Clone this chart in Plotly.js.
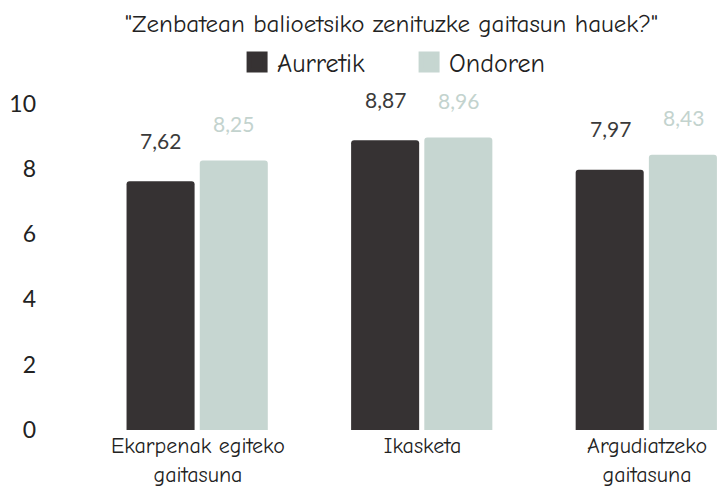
<!DOCTYPE html>
<html>
<head>
<meta charset="utf-8">
<script src="https://cdn.plot.ly/plotly-3.0.1.min.js"></script>
<style>html,body{margin:0;padding:0;background:#fff;}#chart{width:725px;height:492px;}</style>
</head>
<body>
<div id="chart"></div>
<script>
const categories = ["Ekarpenak egiteko<br>gaitasuna", "Ikasketa", "Argudiatzeko<br>gaitasuna"];
const seriesNames = ["Aurretik", "Ondoren"];
const aurretik = [7.62, 8.87, 7.97];
const ondoren = [8.25, 8.96, 8.43];
const yTicks = [0, 2, 4, 6, 8, 10];

const comic = '"Comic Sans MS", "Comic Neue", "Open Sans", sans-serif';
const sans = 'Lato, "Open Sans", sans-serif';
const darkColor = '#363233';
const lightColor = '#c6d6d1';
const colors = [darkColor, lightColor];
const fmt = v => v.toFixed(2).replace('.', ',');

const traces = [
  {type: 'bar', name: seriesNames[0], x: categories, y: aurretik, showlegend: false, legendgroup: 'a',
   marker: {color: darkColor}, width: 0.303, offset: -0.318, hoverinfo: 'none'},
  {type: 'bar', name: seriesNames[1], x: categories, y: ondoren, showlegend: false, legendgroup: 'o',
   marker: {color: lightColor}, width: 0.303, offset: 0.008, hoverinfo: 'none'}
];
// legend entries with larger square swatches
seriesNames.forEach((n, i) => {
  traces.push({type: 'scatter', mode: 'markers', name: n, x: [null], y: [null],
    legendgroup: i === 0 ? 'a' : 'o',
    marker: {symbol: 'square', size: 16, color: colors[i], line: {width: 5, color: colors[i]}}});
});

const annotations = [];
categories.forEach((c, i) => {
  annotations.push({x: c, y: aurretik[i], xref: 'x', yref: 'y', text: fmt(aurretik[i]),
    showarrow: false, xshift: -37, yshift: 41, font: {family: sans, size: 21, color: '#3a3a3a'}});
  annotations.push({x: c, y: ondoren[i], xref: 'x', yref: 'y', text: fmt(ondoren[i]),
    showarrow: false, xshift: 36, yshift: 37, font: {family: sans, size: 21, color: '#c3d3ce'}});
});

const layout = {
  width: 725, height: 492,
  margin: {l: 85, r: 0, t: 80, b: 62},
  paper_bgcolor: '#fff', plot_bgcolor: '#fff',
  barcornerradius: 3,
  title: {text: '"Zenbatean balioetsiko zenituzke gaitasun hauek?"', x: 0.54, xanchor: 'center',
    y: 0.952, yanchor: 'middle', font: {family: comic, size: 25, color: '#222'}},
  showlegend: true,
  legend: {orientation: 'h', xref: 'container', yref: 'container', x: 0.327, xanchor: 'left',
    y: 0.874, yanchor: 'middle', font: {family: comic, size: 26, color: '#222'},
    entrywidth: 127, entrywidthmode: 'pixels', traceorder: 'normal', itemsizing: 'trace'},
  xaxis: {type: 'category', range: [-0.503, 2.347], showgrid: false, zeroline: false, showline: false,
    ticks: '', tickfont: {family: comic, size: 22, color: '#222'}, fixedrange: true},
  yaxis: {range: [0, 10.55], tickvals: yTicks, ticktext: yTicks.map(String), showgrid: false,
    zeroline: false, showline: false, ticks: '', ticklabelstandoff: 48,
    tickfont: {family: sans, size: 23, color: '#222'}, fixedrange: true},
  annotations: annotations
};

Plotly.newPlot('chart', traces, layout, {displayModeBar: false, staticPlot: true});
</script>
</body>
</html>
